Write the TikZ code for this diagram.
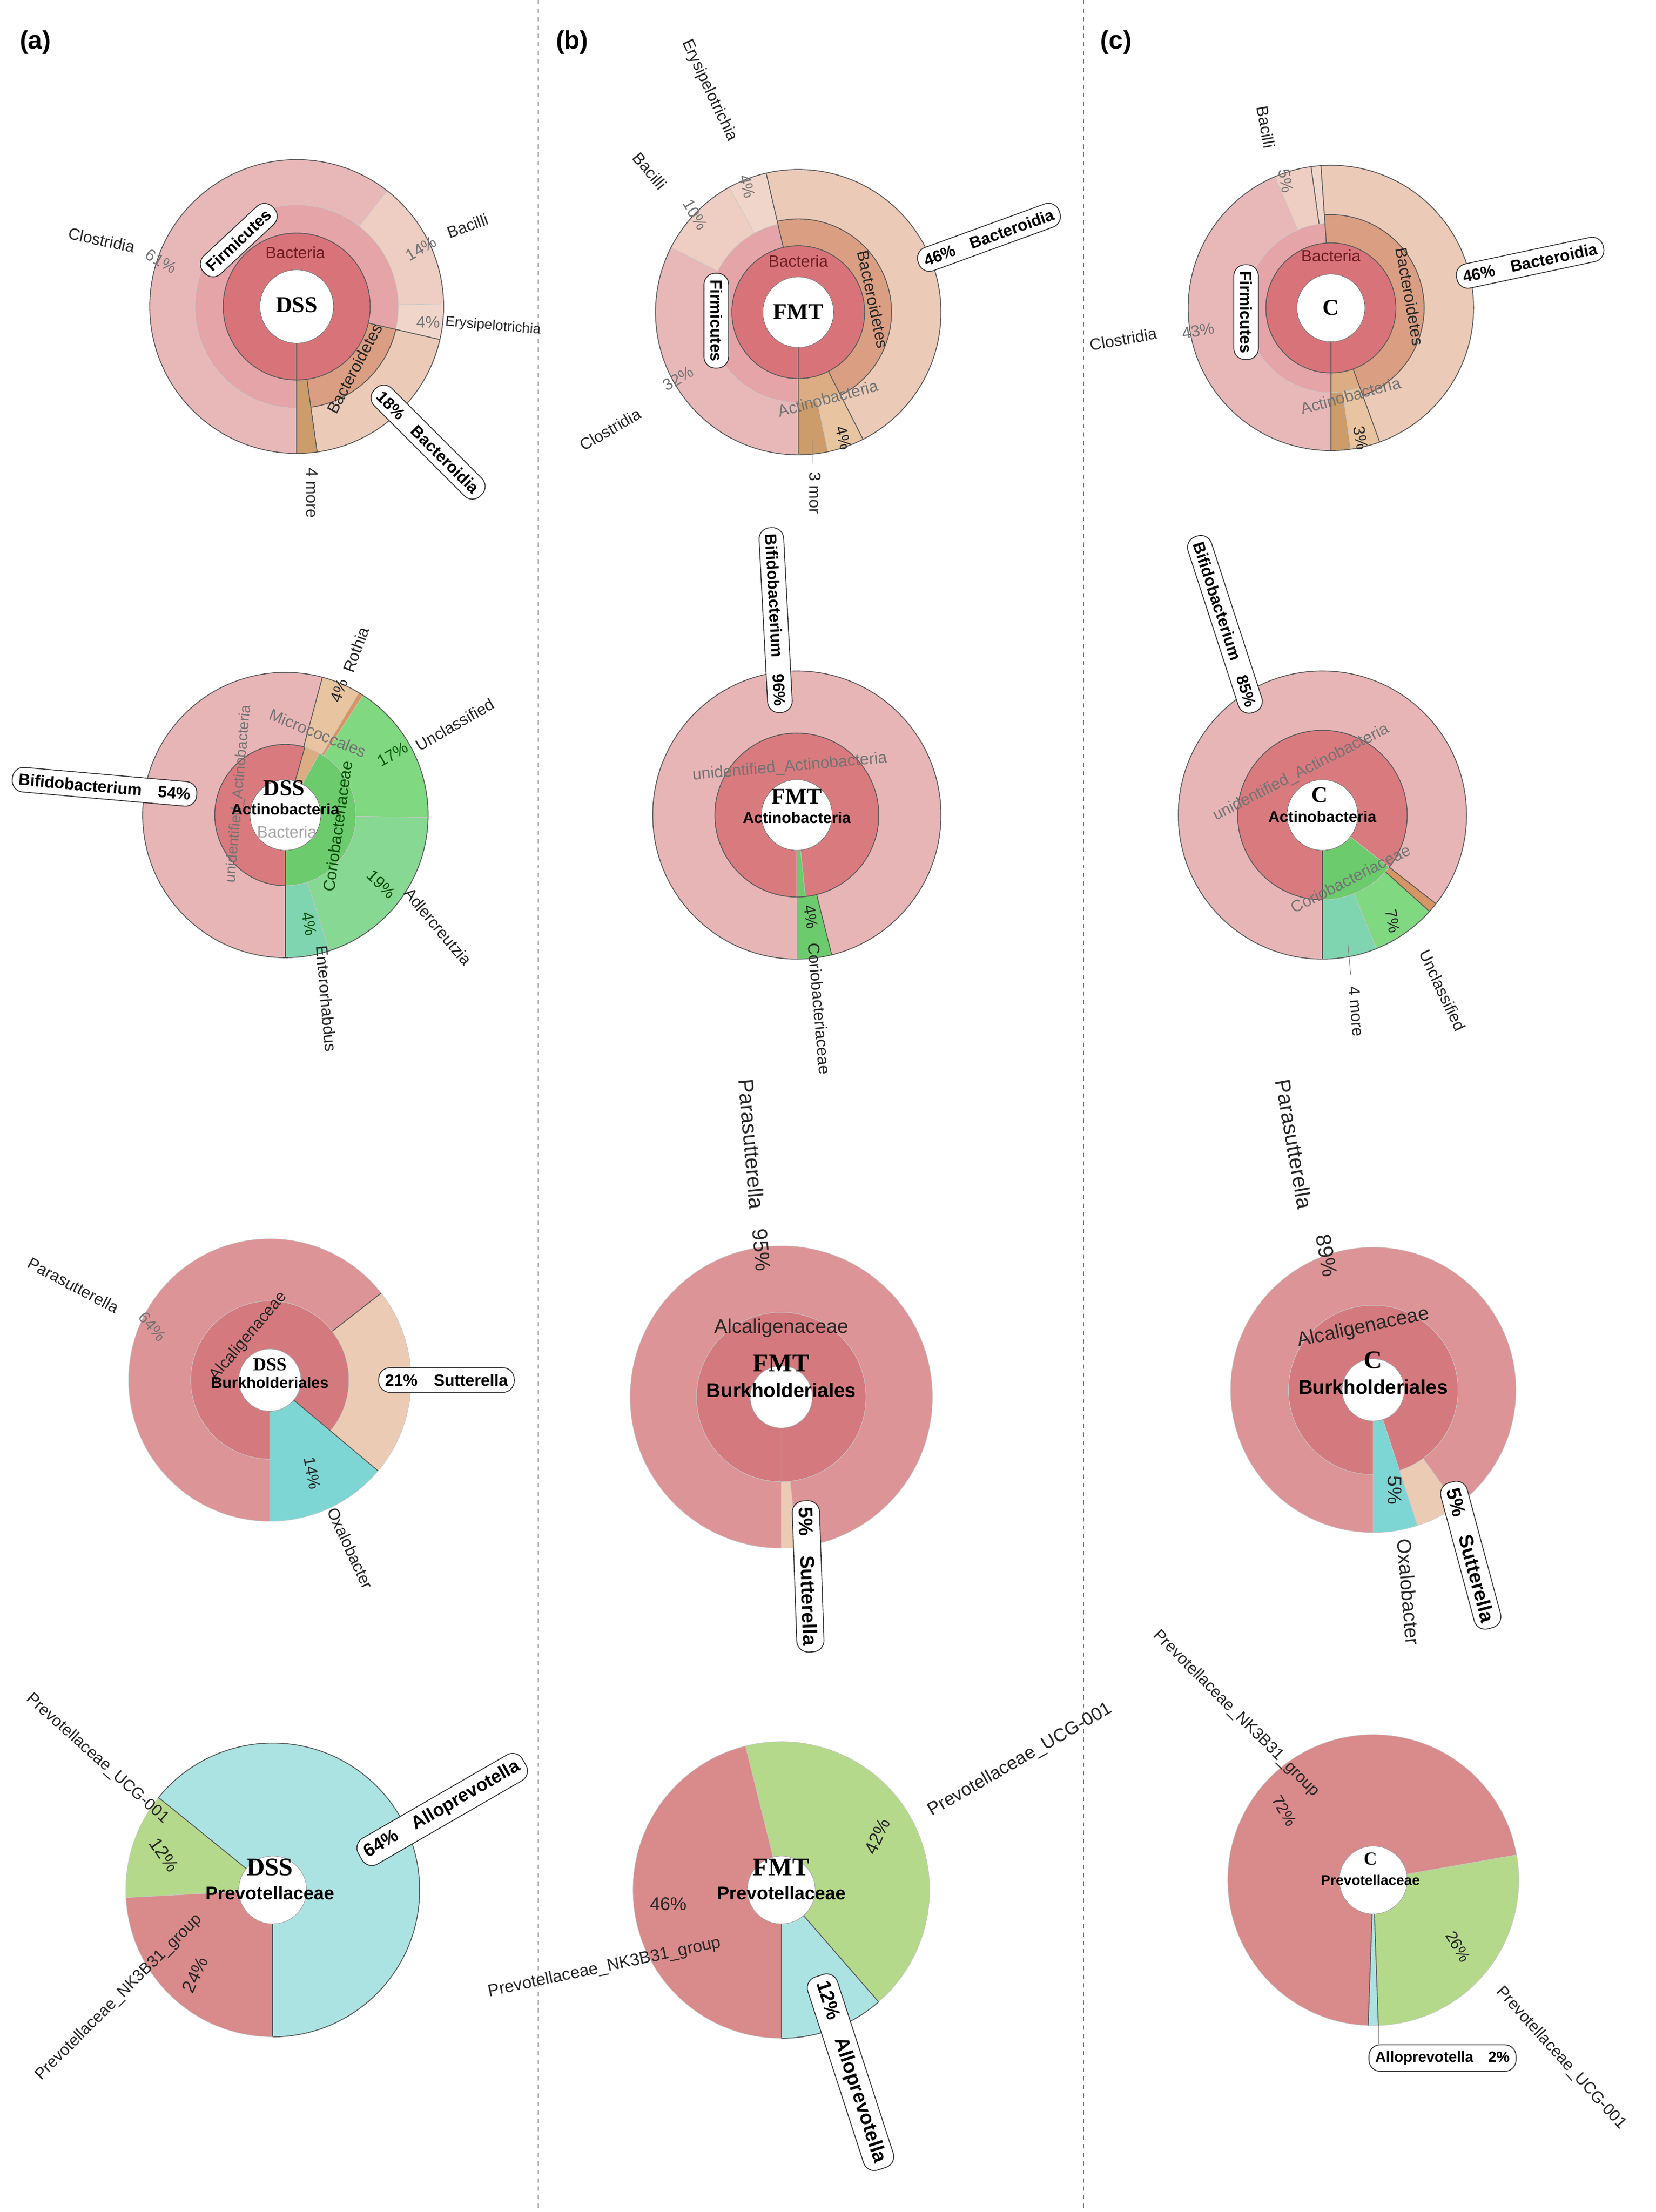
\documentclass[tikz,border=0pt]{standalone}
\usepackage{fontspec}
\setmainfont{Liberation Sans}
\newfontfamily\serifb{Liberation Serif}
\definecolor{cBac}{RGB}{217,115,122}
\definecolor{cFirm}{RGB}{228,164,168}
\definecolor{cClos}{RGB}{232,184,185}
\definecolor{cBacil}{RGB}{238,205,195}
\definecolor{cErys}{RGB}{240,214,202}
\definecolor{cBdts}{RGB}{218,158,130}
\definecolor{cBdia}{RGB}{235,202,184}
\definecolor{cMore}{RGB}{204,156,106}
\definecolor{cAct}{RGB}{220,172,130}
\definecolor{cActO}{RGB}{232,196,160}
\definecolor{cUnid}{RGB}{217,122,126}
\definecolor{cBifi}{RGB}{232,181,182}
\definecolor{cGrI}{RGB}{108,203,108}
\definecolor{cGrO}{RGB}{128,216,128}
\definecolor{cGrA}{RGB}{134,216,146}
\definecolor{cGrT}{RGB}{126,213,176}
\definecolor{cTan}{RGB}{236,203,180}
\definecolor{cOr}{RGB}{214,150,100}
\definecolor{cR3i}{RGB}{212,122,126}
\definecolor{cR3o}{RGB}{221,148,150}
\definecolor{cTeal}{RGB}{126,214,212}
\definecolor{cR4}{RGB}{217,138,138}
\definecolor{cG4}{RGB}{181,217,138}
\definecolor{cT4}{RGB}{171,227,227}
\definecolor{dkred}{RGB}{110,30,35}
\newcommand\sect[5]{\filldraw[fill=#5] (#3:#1) arc[start angle=#3,end angle=#4,radius=#1] -- (#4:#2) arc[start angle=#4,end angle=#3,radius=#2] -- cycle;}
\tikzset{
  chart/.style={draw=black!22,line width=0.3pt,yscale=-1},
  dk/.style={draw=black!65,line width=0.6pt},
  lab/.style={font=\fontsize{11.5}{12}\selectfont,text=black!85,inner sep=1pt},
  pct/.style={font=\fontsize{11.5}{12}\selectfont,text=black!55,inner sep=1pt},
  box/.style={draw=black!80,fill=white,rounded corners=8pt,font=\bfseries\fontsize{11.5}{12}\selectfont,inner sep=4.5pt,line width=0.6pt},
  cen/.style={font=\serifb\bfseries\fontsize{16}{16}\selectfont,inner sep=0pt},
  cenb/.style={font=\bfseries\fontsize{11}{12}\selectfont,inner sep=0pt},
  pan/.style={font=\bfseries\fontsize{18}{18}\selectfont},
  sep/.style={dashed,draw=black!55,line width=0.6pt}
}
\begin{document}
\begin{tikzpicture}[x=1pt,y=-1pt]
\useasboundingbox[fill=white] (0,0) rectangle (1172,1566);
% separators
\coordinate (s1t) at (381,0); \coordinate (s1b) at (381,1566);
\coordinate (s2t) at (767,0); \coordinate (s2b) at (767,1566);
\draw[sep] (s1t) -- (s1b); \draw[sep] (s2t) -- (s2b);
\node[pan] (pa) at (25,30) {(a)};
\node[pan] (pb) at (405,30) {(b)};
\node[pan] (pc) at (790,30) {(c)};

%%%%%%%% a1
\begin{scope}[shift={(210,217)},chart]
\sect{26}{52}{-90}{270}{cBac}
\sect{52}{72}{-13}{270}{cFirm}
\sect{72}{104}{52}{270}{cClos}
\sect{72}{104}{1}{52}{cBacil}
\sect{72}{104}{-13}{1}{cErys}
\sect{52}{104}{-82}{-13}{cBdia}
\sect{52}{72}{-82}{-13}{cBdts}
\sect{52}{104}{-90}{-82}{cMore}
\draw[dk] (0,0) circle[radius=104]; \draw[dk] (0,0) circle[radius=52];
\draw[dk] (-13:52) -- (-13:104); \draw[dk] (-90:26) -- (-90:104); \draw[dk] (-82:52) -- (-82:104);
\draw[dk] (-82:72) arc[start angle=-82,end angle=-13,radius=72];
\filldraw[fill=white,draw=black!60] (0,0) circle[radius=26];
\end{scope}
\node[lab,rotate=-12] (a1clo) at (72,170) {Clostridia};
\node[pct,rotate=-30] (a1clop) at (114,185) {61\%};
\node[box,rotate=43] (a1fir) at (169,170) {Firmicutes};
\node[lab,text=dkred] (a1bac) at (209,179) {Bacteria};
\node[cen] (a1c) at (210,216) {DSS};
\node[pct,rotate=30] (a1bap) at (298,176) {14\%};
\node[lab,rotate=20] (a1bai) at (331,160) {Bacilli};
\node[pct] (a1erp) at (303,228) {4\%};
\node[lab,rotate=-5,font=\fontsize{10}{11}\selectfont] (a1ery) at (349,231) {Erysipelotrichia};
\node[lab,rotate=62] (a1bdt) at (251,261) {Bacteroidetes};
\node[box,rotate=-45] (a1bdi) at (303,313) {18\%\quad Bacteroidia};
\coordinate (a1m1) at (219,318); \coordinate (a1m2) at (219,328);
\draw[black!50] (a1m1) -- (a1m2);
\node[lab,rotate=-90] (a1mor) at (221,349) {4 more};

%%%%%%%% b1
\begin{scope}[shift={(565,221)},chart]
\sect{25}{47}{-90}{270}{cBac}
\sect{47}{64}{103}{270}{cFirm}
\sect{64}{101}{153}{270}{cClos}
\sect{64}{101}{119}{153}{cBacil}
\sect{64}{101}{103}{119}{cErys}
\sect{47}{101}{-63}{103}{cBdia}
\sect{47}{66}{-63}{103}{cBdts}
\sect{47}{64}{-90}{-63}{cAct}
\sect{64}{101}{-78}{-63}{cActO}
\sect{64}{101}{-90}{-78}{cMore}
\draw[dk] (0,0) circle[radius=101]; \draw[dk] (0,0) circle[radius=47];
\draw[dk] (103:47) -- (103:101); \draw[dk] (-63:47) -- (-63:101); \draw[dk] (-90:25) -- (-90:101);
\draw[dk] (-63:66) arc[start angle=-63,end angle=103,radius=66];
\filldraw[fill=white,draw=black!60] (0,0) circle[radius=25];
\end{scope}
\node[lab,rotate=-65] (b1ery) at (502,64) {Erysipelotrichia};
\node[pct,rotate=-75] (b1erp) at (529,132) {4\%};
\node[lab,rotate=-50] (b1bai) at (460,121) {Bacilli};
\node[pct,rotate=-60] (b1bap) at (492,152) {10\%};
\node[lab,text=dkred] (b1bac) at (565,185) {Bacteria};
\node[cen] (b1c) at (565,221) {FMT};
\node[box,rotate=-90] (b1fir) at (507,227) {Firmicutes};
\node[lab,rotate=-78] (b1bdt) at (618,212) {Bacteroidetes};
\node[box,rotate=20] (b1bdi) at (700,168) {46\%\quad Bacteroidia};
\node[pct,rotate=15] (b1act) at (586,282) {Actinobacteria};
\node[lab,rotate=-75] (b1ap) at (597,310) {4\%};
\coordinate (b1m1) at (575,311); \coordinate (b1m2) at (575,328);
\draw[black!50] (b1m1) -- (b1m2);
\node[lab,rotate=-90] (b1mor) at (577,349) {3 mor};
\node[lab,rotate=30] (b1clo) at (432,304) {Clostridia};
\node[pct,rotate=30] (b1clp) at (480,268) {32\%};

%%%%%%%% c1
\begin{scope}[shift={(942,218)},chart]
\sect{24}{46}{-90}{270}{cBac}
\sect{46}{60}{94}{270}{cFirm}
\sect{60}{101}{113}{270}{cClos}
\sect{60}{101}{98}{113}{cBacil}
\sect{60}{101}{94}{98}{cErys}
\sect{46}{101}{-70}{94}{cBdia}
\sect{46}{66}{-70}{94}{cBdts}
\sect{46}{60}{-90}{-70}{cAct}
\sect{60}{101}{-82}{-70}{cActO}
\sect{60}{101}{-90}{-82}{cMore}
\draw[dk] (0,0) circle[radius=101]; \draw[dk] (0,0) circle[radius=46];
\draw[dk] (94:46) -- (94:101); \draw[dk] (98:60) -- (98:101); \draw[dk] (-70:46) -- (-70:101); \draw[dk] (-90:24) -- (-90:101);
\draw[dk] (-70:66) arc[start angle=-70,end angle=94,radius=66];
\filldraw[fill=white,draw=black!60] (0,0) circle[radius=24];
\end{scope}
\node[lab,rotate=-80] (c1bai) at (896,90) {Bacilli};
\node[pct,rotate=-80] (c1bap) at (910,128) {5\%};
\node[lab,text=dkred] (c1bac) at (942,181) {Bacteria};
\node[cen] (c1c) at (942,218) {C};
\node[box,rotate=-90] (c1fir) at (882,221) {Firmicutes};
\node[lab,rotate=-80] (c1bdt) at (998,210) {Bacteroidetes};
\node[box,rotate=12] (c1bdi) at (1083,186) {46\%\quad Bacteroidia};
\node[lab,rotate=10] (c1clo) at (795,240) {Clostridia};
\node[pct,rotate=10] (c1clp) at (848,234) {43\%};
\node[pct,rotate=15] (c1act) at (956,280) {Actinobacteria};
\node[lab,rotate=-80] (c1ap) at (963,310) {3\%};

%%%%%%%% a2
\begin{scope}[shift={(202,577)},chart]
\sect{25}{50}{74}{270}{cUnid}
\sect{25}{50}{61}{74}{cAct}
\sect{25}{50}{-90}{61}{cGrI}
\sect{50}{101}{75}{270}{cBifi}
\sect{50}{101}{59}{75}{cActO}
\sect{50}{101}{57}{59}{cOr}
\sect{50}{101}{-1}{57}{cGrO}
\sect{50}{101}{-72}{-1}{cGrA}
\sect{50}{101}{-90}{-72}{cGrT}
\draw[dk] (0,0) circle[radius=101];
\draw[dk] (74:50) arc[start angle=74,end angle=270,radius=50];
\draw[dk] (-90:25) -- (-90:101); \draw[dk] (75:50) -- (75:101); \draw[dk] (74:25) -- (74:50);
\filldraw[fill=white,draw=black!60] (0,0) circle[radius=25];
\end{scope}
\node[box,rotate=-5] (a2bif) at (74,557) {Bifidobacterium\quad 54\%};
\node[lab,rotate=70] (a2rot) at (252,460) {Rothia};
\node[lab,rotate=70] (a2rp) at (240,489) {4\%};
\node[pct,rotate=-22] (a2mic) at (225,519) {Micrococcales};
\node[lab,rotate=30] (a2unc) at (322,513) {Unclassified};
\node[lab,rotate=30,text=green!35!black] (a2up) at (278,534) {17\%};
\node[pct,rotate=85,font=\fontsize{10.5}{11}\selectfont] (a2uni) at (169,562) {unidentified\_Actinobacteria};
\node[lab,rotate=82,text=green!30!black] (a2cor) at (239,585) {Coriobacteriaceae};
\node[cen] (a2c) at (201,558) {DSS};
\node[cenb] (a2act) at (202,573) {Actinobacteria};
\node[lab,text=black!35] (a2bac) at (203,589) {Bacteria};
\node[lab,rotate=-45,text=green!30!black] (a2ap) at (270,626) {19\%};
\node[lab,rotate=-50] (a2adl) at (310,656) {Adlercreutzia};
\node[lab,rotate=-80,text=green!30!black] (a2ep) at (219,654) {4\%};
\node[lab,rotate=-85] (a2ent) at (231,707) {Enterorhabdus};

%%%%%%%% b2
\begin{scope}[shift={(564,577)},chart]
\sect{25}{58}{-84}{270}{cUnid}
\sect{25}{58}{-90}{-84}{cGrI}
\sect{58}{102}{-76}{270}{cBifi}
\sect{58}{102}{-90}{-76}{cGrI}
\draw[dk] (0,0) circle[radius=102]; \draw[dk] (0,0) circle[radius=58];
\draw[dk] (-76:58) -- (-76:102);
\filldraw[fill=white,draw=black!60] (0,0) circle[radius=25];
\end{scope}
\node[box,rotate=-87] (b2bif) at (549,439) {Bifidobacterium\quad 96\%};
\node[pct,rotate=5] (b2uni) at (559,543) {unidentified\_Actinobacteria};
\node[cen] (b2c) at (564,564) {FMT};
\node[cenb] (b2act) at (564,579) {Actinobacteria};
\node[lab,rotate=-80] (b2p) at (574,649) {4\%};
\node[lab,rotate=-85] (b2cor) at (580,714) {Coriobacteriaceae};

%%%%%%%% c2
\begin{scope}[shift={(936,577)},chart]
\sect{25}{60}{-38}{270}{cUnid}
\sect{25}{60}{-90}{-38}{cGrI}
\sect{60}{102}{-38}{270}{cBifi}
\sect{60}{102}{-42}{-38}{cOr}
\sect{60}{102}{-68}{-42}{cGrO}
\sect{60}{102}{-90}{-68}{cGrT}
\draw[dk] (0,0) circle[radius=102];
\draw[dk] (-38:60) arc[start angle=-38,end angle=270,radius=60];
\draw[dk] (-90:25) -- (-90:102); \draw[dk] (-38:60) -- (-38:102); \draw[dk] (-42:60) -- (-42:102);
\filldraw[fill=white,draw=black!60] (0,0) circle[radius=25];
\end{scope}
\node[box,rotate=-72] (c2bif) at (867,442) {Bifidobacterium\quad 85\%};
\node[pct,rotate=27] (c2uni) at (921,547) {unidentified\_Actinobacteria};
\node[cen] (c2c) at (934,563) {C};
\node[cenb] (c2act) at (936,578) {Actinobacteria};
\node[pct,rotate=27] (c2cor) at (956,622) {Coriobacteriaceae};
\node[lab,rotate=-80] (c2p) at (986,652) {7\%};
\node[lab,rotate=-65] (c2unc) at (1021,701) {Unclassified};
\coordinate (c2m1) at (954,668); \coordinate (c2m2) at (956,690);
\draw[black!50] (c2m1) -- (c2m2);
\node[lab,rotate=-85] (c2mor) at (960,716) {4 more};

%%%%%%%% a3
\begin{scope}[shift={(191,977)},chart]
\sect{22}{56}{-40}{270}{cR3i}
\sect{56}{100}{38}{270}{cR3o}
\sect{56}{100}{-40}{38}{cTan}
\sect{22}{100}{-90}{-40}{cTeal}
\draw[dk] (38:56) -- (38:100); \draw[dk] (-40:22) -- (-40:100);
\filldraw[fill=white,draw=black!40] (0,0) circle[radius=22];
\end{scope}
\node[lab,rotate=-28] (a3par) at (52,910) {Parasutterella};
\node[pct,rotate=-50] (a3pp) at (108,939) {64\%};
\node[lab,rotate=50] (a3alc) at (176,946) {Alcaligenaceae};
\node[cen,font=\serifb\bfseries\fontsize{13}{13}\selectfont] (a3c) at (191,966) {DSS};
\node[cenb] (a3bur) at (191,979) {Burkholderiales};
\node[box] (a3sut) at (316,977) {21\%\quad Sutterella};
\node[lab,rotate=-80] (a3op) at (221,1043) {14\%};
\node[lab,rotate=-65] (a3oxa) at (248,1096) {Oxalobacter};

%%%%%%%% b3
\begin{scope}[shift={(553,989)},chart]
\sect{22}{60}{-90}{270}{cR3i}
\sect{60}{107}{-84}{270}{cR3o}
\sect{60}{107}{-90}{-84}{cTan}
\draw[black!40] (-90:22) -- (-90:60);
\filldraw[fill=white,draw=black!40] (0,0) circle[radius=22];
\end{scope}
\node[lab,rotate=-85,font=\fontsize{15}{16}\selectfont] (b3par) at (532,810) {Parasutterella};
\node[lab,rotate=-85,font=\fontsize{15}{16}\selectfont] (b3pp) at (539,885) {95\%};
\node[lab,font=\fontsize{14}{15}\selectfont] (b3alc) at (553,940) {Alcaligenaceae};
\node[cen,font=\serifb\bfseries\fontsize{18}{18}\selectfont] (b3c) at (553,965) {FMT};
\node[cenb,font=\bfseries\fontsize{14}{15}\selectfont] (b3bur) at (553,984) {Burkholderiales};
\node[box,rotate=-88,font=\bfseries\fontsize{14}{15}\selectfont] (b3sut) at (572,1116) {5\%\quad Sutterella};

%%%%%%%% c3
\begin{scope}[shift={(972,984)},chart]
\sect{22}{60}{-72}{270}{cR3i}
\sect{60}{101}{-54}{270}{cR3o}
\sect{60}{101}{-72}{-54}{cTan}
\sect{22}{101}{-90}{-72}{cTeal}
\filldraw[fill=white,draw=black!40] (0,0) circle[radius=22];
\end{scope}
\node[lab,rotate=-80,font=\fontsize{15}{16}\selectfont] (c3par) at (916,810) {Parasutterella};
\node[lab,rotate=-80,font=\fontsize{15}{16}\selectfont] (c3pp) at (939,889) {89\%};
\node[lab,rotate=12,font=\fontsize{14}{15}\selectfont] (c3alc) at (965,940) {Alcaligenaceae};
\node[cen,font=\serifb\bfseries\fontsize{18}{18}\selectfont] (c3c) at (972,963) {C};
\node[cenb,font=\bfseries\fontsize{14}{15}\selectfont] (c3bur) at (972,982) {Burkholderiales};
\node[lab,rotate=-90,font=\fontsize{14}{15}\selectfont] (c3tp) at (987,1055) {5\%};
\node[lab,rotate=-85,font=\fontsize{14}{15}\selectfont] (c3oxa) at (997,1127) {Oxalobacter};
\node[box,rotate=-75,font=\bfseries\fontsize{14}{15}\selectfont] (c3sut) at (1041,1101) {5\%\quad Sutterella};

%%%%%%%% a4
\begin{scope}[shift={(193,1338)},chart]
\sect{24}{104}{-90}{141}{cT4}
\sect{24}{104}{141}{183}{cG4}
\sect{24}{104}{183}{270}{cR4}
\draw[dk] (-90:24) -- (-90:104); \draw[dk] (141:24) -- (141:104);
\draw[dk] (-90:104) arc[start angle=-90,end angle=141,radius=104];
\filldraw[fill=white,draw=black!40] (0,0) circle[radius=24];
\end{scope}
\node[lab,rotate=-42] (a4ucg) at (69,1245) {Prevotellaceae\_UCG-001};
\node[lab,rotate=-55,font=\fontsize{13}{14}\selectfont] (a4gp) at (116,1313) {12\%};
\node[lab,rotate=45] (a4nk) at (84,1414) {Prevotellaceae\_NK3B31\_group};
\node[lab,rotate=65,font=\fontsize{13}{14}\selectfont] (a4rp) at (138,1398) {24\%};
\node[cen,font=\serifb\bfseries\fontsize{18}{18}\selectfont] (a4c) at (191,1322) {DSS};
\node[cenb,font=\bfseries\fontsize{13}{14}\selectfont] (a4pre) at (191,1340) {Prevotellaceae};
\node[box,rotate=30,font=\bfseries\fontsize{13}{14}\selectfont] (a4all) at (313,1281) {64\%\quad Alloprevotella};

%%%%%%%% b4
\begin{scope}[shift={(553,1338)},chart]
\sect{24}{105}{-49}{104}{cG4}
\sect{24}{105}{-90}{-49}{cT4}
\sect{24}{105}{104}{270}{cR4}
\draw[dk] (-90:24) -- (-90:105); \draw[dk] (-49:24) -- (-49:105);
\draw[dk] (-90:105) arc[start angle=-90,end angle=-49,radius=105];
\filldraw[fill=white,draw=black!40] (0,0) circle[radius=24];
\end{scope}
\node[lab,rotate=30,font=\fontsize{13}{14}\selectfont] (b4ucg) at (722,1246) {Prevotellaceae\_UCG-001};
\node[lab,rotate=65,font=\fontsize{13}{14}\selectfont] (b4gp) at (621,1300) {42\%};
\node[lab,font=\fontsize{13}{14}\selectfont] (b4rp) at (473,1348) {46\%};
\node[cen,font=\serifb\bfseries\fontsize{18}{18}\selectfont] (b4c) at (553,1322) {FMT};
\node[cenb,font=\bfseries\fontsize{13}{14}\selectfont] (b4pre) at (553,1340) {Prevotellaceae};
\node[lab,rotate=12,font=\fontsize{12}{13}\selectfont] (b4nk) at (428,1393) {Prevotellaceae\_NK3B31\_group};
\node[box,rotate=-72,font=\bfseries\fontsize{14}{15}\selectfont] (b4all) at (602,1467) {12\%\quad Alloprevotella};

%%%%%%%% c4
\begin{scope}[shift={(972,1331)},chart]
\sect{24}{103}{10}{268}{cR4}
\sect{24}{103}{268}{272}{cT4}
\sect{24}{103}{-88}{10}{cG4}
\draw[dk] (268:24) -- (268:103); \draw[dk] (272:24) -- (272:103);
\filldraw[fill=white,draw=black!40] (0,0) circle[radius=24];
\end{scope}
\node[lab,rotate=-45] (c4nk) at (875,1213) {Prevotellaceae\_NK3B31\_group};
\node[lab,rotate=-60] (c4rp) at (909,1282) {72\%};
\node[cen,font=\serifb\bfseries\fontsize{13}{13}\selectfont] (c4c) at (970,1316) {C};
\node[cenb,font=\bfseries\fontsize{10}{11}\selectfont] (c4pre) at (970,1331) {Prevotellaceae};
\node[lab,rotate=-60] (c4gp) at (1032,1378) {26\%};
\node[lab,rotate=-48] (c4ucg) at (1105,1457) {Prevotellaceae\_UCG-001};
\coordinate (c4m1) at (976,1434);
\node[box,font=\bfseries\fontsize{10.5}{11}\selectfont] (c4all) at (1021,1457) {Alloprevotella\quad 2\%};
\draw[black!50] (c4m1) -- (c4m1 |- c4all.north);
\end{tikzpicture}
\end{document}
